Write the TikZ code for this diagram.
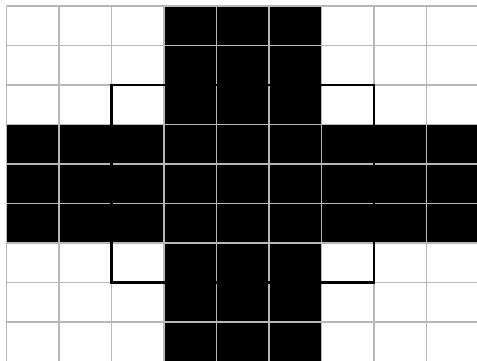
\documentclass[tikz,border=0pt]{standalone}
\usepackage{xcolor}
\definecolor{gridcolor}{RGB}{184, 184, 184}
\tikzset{
	cell/.style={fill=black},
	gridline/.style={draw=gridcolor, line width=1.2pt},
	outline/.style={draw=black, line width=2pt}
}
\begin{document}
\begin{tikzpicture}[x=1.575cm, y=1.185cm]
	\useasboundingbox (-0.124,0.013) rectangle (8.962,9.152);
	% black cross
	\foreach \i in {0,...,8} {
		\foreach \j in {3,4,5} {
			\fill[cell] (\j,\i) rectangle ++(1,1);
			\fill[cell] (\i,\j) rectangle ++(1,1);
		}
	}
	% grid
	\foreach \k in {0,...,9} {
		\draw[gridline] (\k,0) -- (\k,9);
		\draw[gridline] (0,\k) -- (9,\k);
	}
	% frame
	\draw[outline] (2,2) rectangle (7,7);
\end{tikzpicture}
\end{document}
